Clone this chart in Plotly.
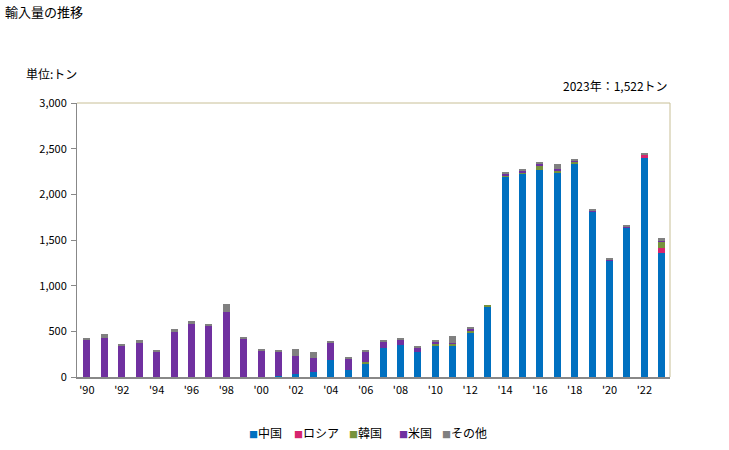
import plotly.graph_objects as go

years = list(range(1990, 2024))
china = [0, 0, 0, 0, 0, 0, 0, 0, 0, 0, 0, 12, 30, 53, 185, 75, 138, 317, 347, 273,
         347, 335, 478, 765, 2187, 2231, 2271, 2239, 2341, 1813, 1274, 1637, 2393, 1358]
russia = [0] * 32 + [44, 58]
korea = [0, 0, 0, 0, 0, 0, 0, 0, 0, 0, 0, 0, 0, 0, 0, 0, 25, 0, 0, 0,
         11, 33, 33, 22, 22, 11, 44, 22, 18, 0, 0, 0, 0, 63]
usa = [401, 427, 347, 372, 281, 490, 589, 567, 710, 413, 292, 270, 195, 150, 194, 129, 117, 73, 66, 51,
       33, 5, 11, 0, 18, 18, 22, 11, 11, 11, 8, 8, 0, 11]
other = [22, 44, 11, 29, 11, 32, 21, 11, 88, 22, 11, 11, 77, 66, 11, 11, 11, 11, 11, 11,
         11, 77, 22, 0, 11, 11, 22, 55, 11, 18, 14, 11, 11, 33]

series_names = ["中国", "ロシア", "韓国", "米国", "その他"]
series_colors = ["#0070c0", "#d6246e", "#76923c", "#7030a0", "#808080"]
tick_years = list(range(1990, 2024, 2))
tick_labels = ["'" + str(y)[2:] for y in tick_years]
y_ticks = [0, 500, 1000, 1500, 2000, 2500, 3000]

FONT = "Noto Sans CJK JP"

# plot area in window pixels
PL, PR, PT, PB = 77, 670, 103, 377
PW, PH = PR - PL, PB - PT


def px_x(x):
    return (x - PL) / PW


def px_y(y):
    return (PB - y) / PH


fig = go.Figure()
for name, vals, col in zip(series_names, [china, russia, korea, usa, other], series_colors):
    fig.add_trace(go.Bar(x=years, y=vals, name=name, showlegend=False,
                         marker=dict(color=col, line=dict(width=0))))

legend_x = [247, 292, 347, 397, 440]
annotations = [
    dict(text="輸入量の推移", xref="paper", yref="paper", x=px_x(3), y=px_y(12),
         xanchor="left", yanchor="middle", showarrow=False, font=dict(size=13)),
    dict(text="単位:トン", xref="paper", yref="paper", x=px_x(24), y=px_y(73),
         xanchor="left", yanchor="middle", showarrow=False, font=dict(size=12)),
    dict(text="2023年：1,522トン", xref="paper", yref="paper", x=1, y=px_y(86),
         xanchor="right", yanchor="middle", showarrow=False, font=dict(size=12)),
]
for name, col, lx in zip(series_names, series_colors, legend_x):
    annotations.append(dict(
        text=f'<span style="color:{col};font-size:9px">■</span>{name}',
        xref="paper", yref="paper", x=px_x(lx), y=px_y(432),
        xanchor="left", yanchor="middle", showarrow=False, font=dict(size=12)))

fig.update_layout(
    width=729, height=450,
    barmode="stack", bargap=0.6,
    paper_bgcolor="white", plot_bgcolor="white",
    margin=dict(l=PL, r=729 - PR, t=PT, b=450 - PB, autoexpand=False),
    font=dict(family=FONT, size=11, color="#000000"),
    showlegend=False,
    xaxis=dict(range=[1989.43, 2023.47], tickvals=tick_years, ticktext=tick_labels,
               tickangle=0, showgrid=False, zeroline=False, showline=True,
               linecolor="#888888", linewidth=2, ticks="", ticklabelstandoff=2,
               tickfont=dict(size=11)),
    yaxis=dict(range=[0, 3000], tickvals=y_ticks, tickformat=",", showgrid=False, zeroline=False,
               showline=True, linecolor="#888888", linewidth=1, ticks="outside", ticklen=5,
               tickcolor="#888888", ticklabelstandoff=2, tickfont=dict(size=11)),
    shapes=[
        dict(type="line", xref="paper", yref="paper", x0=0, x1=1, y0=1, y1=1,
             line=dict(color="#c8bf96", width=1)),
        dict(type="line", xref="paper", yref="paper", x0=1, x1=1, y0=0, y1=1,
             line=dict(color="#c8bf96", width=1)),
    ],
    annotations=annotations,
)

fig.write_html("out.html", config={"displayModeBar": False},
               post_script="document.body.style.margin='0';document.body.style.overflow='hidden';")
